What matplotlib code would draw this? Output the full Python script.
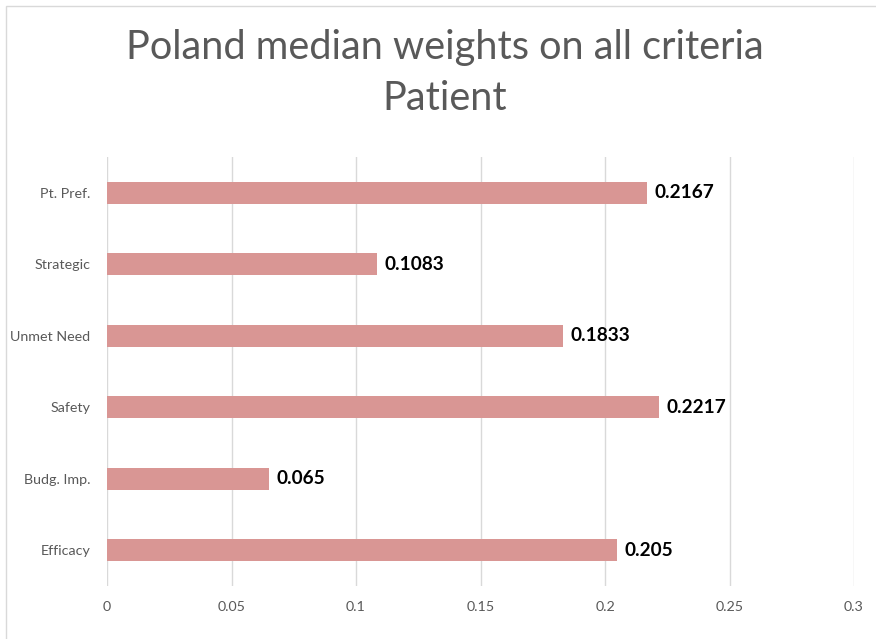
import matplotlib.pyplot as plt
from matplotlib.patches import Rectangle

# data (bottom to top as drawn)
categories = ["Efficacy", "Budg. Imp.", "Safety", "Unmet Need", "Strategic", "Pt. Pref."]
weights = [0.205, 0.065, 0.2217, 0.1833, 0.1083, 0.2167]
value_labels = ["0.205", "0.065", "0.2217", "0.1833", "0.1083", "0.2167"]
xticks = [0, 0.05, 0.1, 0.15, 0.2, 0.25, 0.3]
xtick_labels = ["0", "0.05", "0.1", "0.15", "0.2", "0.25", "0.3"]

BAR_COLOR = "#D99694"
TEXT_GRAY = "#595959"
GRID_GRAY = "#D9D9D9"

W, H = 876, 639
fig = plt.figure(figsize=(W / 100, H / 100), dpi=100)
plt.rcParams["font.family"] = ["Lato", "DejaVu Sans"]

# chart border (only left/top fall inside the image)
fig.patches.append(Rectangle((6 / W, -0.05), 2, 1.05 - 6 / H, transform=fig.transFigure,
                             fill=False, edgecolor=GRID_GRAY, linewidth=1.0))

ax = fig.add_axes([107 / W, 1 - 585.7 / H, (854 - 107) / W, (585.7 - 157.3) / H])

y = range(len(categories))
ax.barh(y, weights, height=0.31, color=BAR_COLOR, zorder=3)
for yi, w, lbl in zip(y, weights, value_labels):
    ax.text(w + 0.003, yi, lbl, va="center", ha="left", fontsize=13.7,
            fontweight="bold", color="black")

ax.set_xlim(0, 0.3)
ax.set_ylim(-0.5, len(categories) - 0.5)
ax.set_xticks(xticks)
ax.set_xticklabels(xtick_labels)
ax.set_yticks(list(y))
ax.set_yticklabels(categories)
ax.tick_params(axis="both", length=0, labelsize=10.3, colors=TEXT_GRAY)
ax.tick_params(axis="x", pad=11)
ax.tick_params(axis="y", pad=12)
ax.grid(axis="x", color=GRID_GRAY, linewidth=1.0, zorder=0)
for s in ax.spines.values():
    s.set_visible(False)

fig.text(445 / W, 1 - 73 / H, "Poland median weights on all criteria\nPatient",
         ha="center", va="center", fontsize=28.6, fontweight="normal",
         color=TEXT_GRAY, linespacing=1.45)

fig.savefig("out.png", dpi=100)
